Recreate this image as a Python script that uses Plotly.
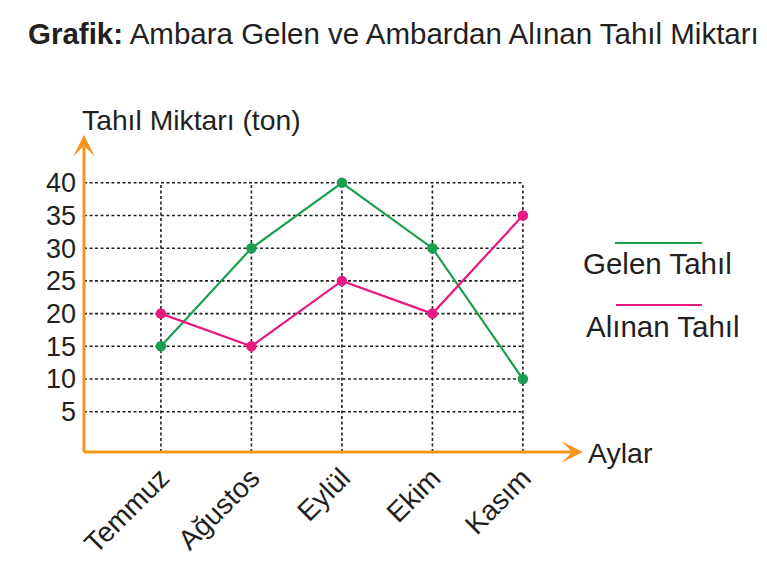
import plotly.graph_objects as go

months = ["Temmuz", "Ağustos", "Eylül", "Ekim", "Kasım"]
gelen = [15, 30, 40, 30, 10]
alinan = [20, 15, 25, 20, 35]
y_ticks = [5, 10, 15, 20, 25, 30, 35, 40]

GREEN = "#1a9f4e"
PINK = "#e8197f"
ORANGE = "#f7941d"
TXT = "#231f20"
FONT = "Liberation Sans, Arial, sans-serif"

W, H = 767, 564
L, R, T, B = 84, 583, 135, 452
X0, X1 = -0.85, 4.664
Y0, Y1 = -1.16, 47.31


def px(xp):
    return (xp - L) / (R - L)


def py(yp):
    return (B - yp) / (B - T)


fig = go.Figure()
fig.add_trace(go.Scatter(x=months, y=gelen, mode="lines+markers", name="Gelen Tahıl",
                         line=dict(color=GREEN, width=2.2), marker=dict(size=10.5, color=GREEN),
                         cliponaxis=False, showlegend=False))
fig.add_trace(go.Scatter(x=months, y=alinan, mode="lines+markers", name="Alınan Tahıl",
                         line=dict(color=PINK, width=2.2), marker=dict(size=10.5, color=PINK),
                         cliponaxis=False, showlegend=False))

shapes = []
grid = dict(color="#222222", width=1.6, dash="3px,2.5px")
xmax_idx = len(months) - 1
for v in y_ticks:
    shapes.append(dict(type="line", xref="x", yref="y", x0=X0, x1=xmax_idx, y0=v, y1=v,
                       line=grid, layer="below"))
for i in range(len(months)):
    shapes.append(dict(type="line", xref="x", yref="y", x0=i, x1=i, y0=Y0, y1=max(y_ticks),
                       line=grid, layer="below"))
# legend lines
shapes.append(dict(type="line", xref="paper", yref="paper", x0=px(615), x1=px(702),
                   y0=py(243), y1=py(243), line=dict(color=GREEN, width=2)))
shapes.append(dict(type="line", xref="paper", yref="paper", x0=px(616), x1=px(702),
                   y0=py(305), y1=py(305), line=dict(color=PINK, width=2)))

annotations = [
    # axis arrows
    dict(x=X1, y=Y0, ax=X0 - 0.017, ay=Y0, xref="x", yref="y", axref="x", ayref="y",
         text="", showarrow=True, arrowhead=3, arrowsize=1.2, arrowwidth=3, arrowcolor=ORANGE),
    dict(x=X0, y=Y1, ax=X0, ay=Y0 - 0.23, xref="x", yref="y", axref="x", ayref="y",
         text="", showarrow=True, arrowhead=3, arrowsize=1.2, arrowwidth=3, arrowcolor=ORANGE),
    # title
    dict(x=px(26), y=py(33), xref="paper", yref="paper", xanchor="left", yanchor="middle",
         text="<b>Grafik:</b> Ambara Gelen ve Ambardan Alınan Tahıl Miktarı",
         showarrow=False, font=dict(size=29.5, color=TXT, family=FONT)),
    # y-axis title
    dict(x=px(80), y=py(120), xref="paper", yref="paper", xanchor="left", yanchor="middle",
         text="Tahıl Miktarı (ton)", showarrow=False, font=dict(size=28.3, color=TXT, family=FONT)),
    # x-axis title
    dict(x=px(586), y=py(453), xref="paper", yref="paper", xanchor="left", yanchor="middle",
         text="Aylar", showarrow=False, font=dict(size=28.5, color=TXT, family=FONT)),
    # legend texts
    dict(x=px(581), y=py(263), xref="paper", yref="paper", xanchor="left", yanchor="middle",
         text="Gelen Tahıl", showarrow=False, font=dict(size=29.5, color=TXT, family=FONT)),
    dict(x=px(584), y=py(326), xref="paper", yref="paper", xanchor="left", yanchor="middle",
         text="Alınan Tahıl", showarrow=False, font=dict(size=29.5, color=TXT, family=FONT)),
]

fig.update_layout(
    width=W, height=H,
    margin=dict(l=L, r=W - R, t=T, b=H - B, pad=0, autoexpand=False),
    paper_bgcolor="white", plot_bgcolor="white",
    shapes=shapes, annotations=annotations,
    font=dict(family=FONT, color=TXT),
    xaxis=dict(type="category", categoryorder="array", categoryarray=months,
               range=[X0, X1], showgrid=False, zeroline=False, showline=False,
               ticks="", tickangle=-45, tickfont=dict(size=28, color=TXT, family=FONT),
               ticklabelstandoff=3, fixedrange=True, automargin=False),
    yaxis=dict(range=[Y0, Y1], tickvals=y_ticks, ticktext=[str(v) for v in y_ticks],
               showgrid=False, zeroline=False, showline=False, ticks="",
               tickfont=dict(size=27, color=TXT, family=FONT), ticklabelstandoff=7,
               fixedrange=True, automargin=False),
)

fig.write_html("out.html")
